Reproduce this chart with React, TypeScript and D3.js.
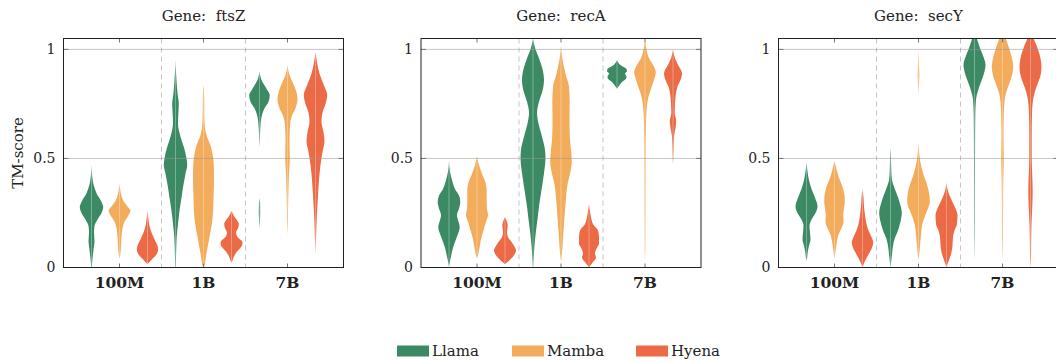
import React from 'react';
import * as d3 from 'd3';

// categories
const genes = ['ftsZ', 'recA', 'secY'];
const sizes = ['100M', '1B', '7B'];
const models = ['Llama', 'Mamba', 'Hyena'];
const modelColors = ['#3B8A64', '#F2AC5B', '#EC6A45'];
const yTicks = [0, 0.5, 1];

type Profile = [number, number][]; // [TM-score, density]

// violin profiles, [size][model]
const ftsZProfiles: Profile[][] = [
  [
    [[0.47, 0], [0.42, 0.7], [0.38, 2], [0.34, 5], [0.3, 10], [0.277, 11.7], [0.25, 10], [0.22, 6], [0.19, 3], [0.16, 2.5], [0.12, 3], [0.08, 2], [0.04, 1], [0, 0.3]],
    [[0.39, 0], [0.35, 1], [0.31, 3.5], [0.28, 8], [0.26, 11], [0.24, 9], [0.21, 5], [0.18, 3], [0.14, 2], [0.1, 1.5], [0.06, 0.8], [0.04, 0]],
    [[0.26, 0], [0.22, 1], [0.19, 2], [0.16, 4], [0.13, 7], [0.1, 10], [0.085, 10.7], [0.06, 9], [0.04, 5], [0.025, 2], [0.015, 0]],
  ],
  [
    [[0.95, 0], [0.88, 0.7], [0.8, 2], [0.75, 3.3], [0.7, 2.8], [0.66, 2.5], [0.6, 5], [0.55, 8.5], [0.5, 11], [0.47, 11.7], [0.43, 10], [0.38, 8], [0.32, 6], [0.26, 4], [0.2, 2.5], [0.14, 1.2], [0.08, 0.7], [0, 0.3]],
    [[0.84, 0], [0.78, 0.7], [0.7, 0.8], [0.64, 1.5], [0.6, 3.5], [0.56, 7], [0.52, 9], [0.47, 10.3], [0.4, 10.5], [0.32, 10], [0.25, 9.5], [0.19, 8], [0.14, 6], [0.09, 4], [0.05, 2.5], [0.02, 1.5], [0, 0.5]],
    [[0.26, 0], [0.24, 2], [0.22, 5], [0.2, 7.3], [0.18, 6.5], [0.16, 4.5], [0.14, 6], [0.12, 10.5], [0.11, 11], [0.09, 9], [0.07, 5], [0.05, 2.5], [0.03, 0.8], [0.02, 0]],
  ],
  [
    [[0.9, 0], [0.86, 2], [0.82, 7], [0.79, 10.3], [0.76, 9], [0.73, 5], [0.69, 2], [0.64, 0.8], [0.58, 0.3], [0.55, 0], [0.32, 0], [0.3, 0.5], [0.25, 0.7], [0.18, 0]],
    [[0.93, 0], [0.89, 1.5], [0.85, 5], [0.81, 8.5], [0.77, 10], [0.73, 8], [0.69, 4], [0.65, 2.5], [0.58, 2], [0.5, 2.3], [0.43, 1.5], [0.36, 1], [0.28, 0.6], [0.2, 0.4], [0.15, 0]],
    [[0.99, 0], [0.94, 1.5], [0.89, 4], [0.84, 8], [0.79, 11.7], [0.75, 10], [0.71, 7], [0.67, 6], [0.62, 8], [0.58, 9], [0.53, 7], [0.47, 5], [0.4, 3.5], [0.33, 2.5], [0.25, 1.5], [0.17, 0.8], [0.1, 0.3], [0.06, 0]],
  ],
];

const recAProfiles: Profile[][] = [
  [
    [[0.49, 0], [0.44, 1], [0.4, 3], [0.36, 6], [0.33, 10], [0.3, 11.3], [0.27, 10], [0.24, 8], [0.21, 9.5], [0.185, 10.7], [0.16, 9.5], [0.13, 7], [0.09, 4], [0.05, 2], [0.01, 0.3], [0, 0]],
    [[0.51, 0], [0.47, 2], [0.43, 5], [0.39, 8.5], [0.35, 9.7], [0.3, 9.7], [0.27, 10], [0.24, 11], [0.21, 9], [0.17, 6.5], [0.13, 4], [0.09, 2.5], [0.06, 1.2], [0.04, 0]],
    [[0.23, 0], [0.21, 2], [0.19, 2.7], [0.16, 2], [0.14, 3], [0.12, 6], [0.1, 9], [0.078, 11], [0.06, 9.5], [0.04, 6], [0.025, 2.5], [0.015, 0]],
  ],
  [
    [[1.05, 0], [1, 2.5], [0.96, 6], [0.91, 9.5], [0.86, 11], [0.81, 9.5], [0.76, 6], [0.71, 4], [0.66, 5.5], [0.6, 9], [0.54, 12], [0.5, 12.5], [0.45, 11.5], [0.4, 10], [0.34, 8], [0.28, 6], [0.22, 4.5], [0.16, 2.8], [0.1, 1.5], [0.04, 0.6], [0, 0.2]],
    [[1.02, 0], [0.97, 1], [0.93, 2.5], [0.88, 5], [0.83, 8], [0.76, 8.7], [0.68, 8.5], [0.6, 8.8], [0.54, 10], [0.49, 10.8], [0.44, 9.5], [0.38, 6.5], [0.32, 5], [0.25, 3.8], [0.18, 2.7], [0.12, 1.8], [0.06, 0.9], [0.03, 0]],
    [[0.29, 0], [0.26, 1], [0.23, 2], [0.2, 4], [0.17, 9], [0.14, 10], [0.11, 10], [0.09, 8], [0.065, 6], [0.045, 7], [0.025, 4], [0.01, 1.5], [0, 0]],
  ],
  [
    [[0.95, 0], [0.93, 3], [0.91, 9.5], [0.9, 10], [0.89, 8], [0.88, 9], [0.87, 9.5], [0.85, 5], [0.83, 1.5], [0.82, 0]],
    [[1.05, 0], [1, 1.5], [0.96, 4], [0.93, 8], [0.895, 10.8], [0.86, 9], [0.82, 6], [0.78, 3.3], [0.74, 2], [0.7, 1.3], [0.6, 0.8], [0.5, 0.6], [0.35, 0.5], [0.2, 0.4], [0.08, 0.3], [0.03, 0]],
    [[1, 0], [0.96, 2], [0.93, 5], [0.89, 9], [0.86, 7.5], [0.83, 4.5], [0.8, 3], [0.75, 2], [0.71, 1.7], [0.67, 3.2], [0.64, 2.5], [0.6, 1], [0.55, 0.6], [0.5, 0.3], [0.475, 0]],
  ],
];

const secYProfiles: Profile[][] = [
  [
    [[0.48, 0], [0.44, 1], [0.4, 2.5], [0.36, 5], [0.32, 8.5], [0.28, 11], [0.25, 9], [0.22, 5], [0.19, 3], [0.16, 3.5], [0.13, 4], [0.1, 2.5], [0.07, 1.2], [0.04, 0.5], [0.03, 0]],
    [[0.49, 0], [0.45, 2], [0.41, 4.5], [0.37, 8], [0.33, 10], [0.3, 10.3], [0.27, 9.5], [0.24, 8.7], [0.21, 9], [0.18, 7], [0.15, 4], [0.12, 2.5], [0.08, 1.2], [0.04, 0]],
    [[0.36, 0], [0.32, 1], [0.28, 1.5], [0.24, 2.5], [0.2, 4], [0.17, 6], [0.14, 9], [0.115, 10.7], [0.09, 9.5], [0.06, 6], [0.03, 2.5], [0, 0]],
  ],
  [
    [[0.55, 0], [0.5, 0.5], [0.44, 0.8], [0.4, 1.5], [0.37, 3.5], [0.34, 6], [0.3, 9], [0.25, 11.3], [0.21, 10], [0.17, 7.5], [0.13, 4], [0.1, 2.5], [0.06, 1.5], [0.02, 0.5], [0, 0]],
    [[1, 0], [0.93, 0.5], [0.88, 0.8], [0.82, 0.3], [0.78, 0], [0.58, 0], [0.54, 0.5], [0.5, 1.3], [0.46, 3], [0.42, 5.5], [0.38, 8.5], [0.33, 11], [0.3, 11.3], [0.27, 9.5], [0.23, 6], [0.19, 3.5], [0.15, 2.5], [0.1, 1.5], [0.06, 0.8], [0.03, 0]],
    [[0.39, 0], [0.35, 1.5], [0.31, 5], [0.27, 9], [0.24, 11], [0.2, 10.5], [0.17, 8], [0.14, 6.5], [0.1, 6], [0.07, 5], [0.04, 3], [0.015, 1], [0, 0]],
  ],
  [
    [[1.08, 0], [1.04, 3], [1, 6], [0.96, 9.5], [0.93, 11], [0.89, 9.5], [0.85, 6.5], [0.81, 3.5], [0.77, 1.5], [0.7, 0.8], [0.6, 0.6], [0.45, 0.5], [0.3, 0.4], [0.15, 0.3], [0.03, 0]],
    [[1.08, 0], [1.04, 4], [1, 7], [0.96, 9.5], [0.92, 10.7], [0.88, 9.5], [0.84, 6.5], [0.8, 3.5], [0.76, 2], [0.7, 1.3], [0.6, 1], [0.5, 1.3], [0.4, 0.8], [0.3, 0.6], [0.15, 0.5], [0.03, 0]],
    [[1.08, 0], [1.04, 4], [1, 7.5], [0.96, 10], [0.92, 11], [0.88, 10], [0.84, 7], [0.8, 4], [0.76, 2.3], [0.7, 1.5], [0.6, 1.2], [0.5, 1.2], [0.42, 1.8], [0.35, 2.2], [0.28, 1.8], [0.2, 1], [0.1, 0.6], [0.03, 0.4], [0, 0]],
  ],
];

const geneProfiles = [ftsZProfiles, recAProfiles, secYProfiles];

// layout
const panelLefts = [63, 420.5, 778];
const panelTop = 38;
const panelW = 280;
const panelH = 229;
const legendX = [397, 512, 636];
const font = '"DejaVu Serif", serif';

const Panel = ({ index }: { index: number }) => {
  const profiles = geneProfiles[index];
  const x = d3.scaleLinear().domain([-2 / 3, 2 + 2 / 3]).range([0, panelW]);
  const y = d3.scaleLinear().domain([0, 1.05]).range([panelH, 0]);
  const w = d3.scaleLinear().domain([0, 12]).range([0, 12]);
  const offsets = [-1 / 3, 0, 1 / 3];
  const clipId = `clip-${index}`;

  return (
    <g transform={`translate(${panelLefts[index] + 0.5},${panelTop + 0.5})`}>
      <text x={panelW / 2} y={-18} textAnchor="middle" fontFamily={font} fontSize={15} fill="#222">
        {`Gene:\u00A0 ${genes[index]}`}
      </text>
      <defs>
        <clipPath id={clipId}>
          <rect x={0} y={0} width={panelW} height={panelH} />
        </clipPath>
      </defs>

      {/* separators between sizes */}
      {[0.5, 1.5].map((s) => (
        <line key={s} x1={x(s)} x2={x(s)} y1={0} y2={panelH} stroke="#c4c4c4" strokeDasharray="5,4" />
      ))}

      <g clipPath={`url(#${clipId})`}>
        {profiles.map((group, si) =>
          group.map((prof, mi) => {
            const cx = x(si + offsets[mi]);
            const area = d3
              .area<[number, number]>()
              .y((d) => y(d[0]))
              .x0((d) => cx - w(d[1]))
              .x1((d) => cx + w(d[1]))
              .curve(d3.curveMonotoneY);
            const top = prof[0][0];
            const bottom = prof[prof.length - 1][0];
            return (
              <g key={`${si}-${mi}`}>
                <path d={area(prof) || ''} fill={modelColors[mi]} />
                <line x1={cx} x2={cx} y1={y(top)} y2={y(bottom)} stroke="#fff" strokeWidth={0.8} opacity={0.4} />
              </g>
            );
          })
        )}
      </g>

      {/* horizontal grid */}
      {yTicks.filter((t) => t > 0).map((t) => (
        <line key={t} x1={0} x2={panelW} y1={y(t)} y2={y(t)} stroke="#999" strokeWidth={1} opacity={0.55} />
      ))}

      {/* ticks */}
      {yTicks.map((t) => (
        <g key={`yt${t}`}>
          <line x1={0} x2={5} y1={y(t)} y2={y(t)} stroke="#777" />
          <line x1={panelW - 5} x2={panelW} y1={y(t)} y2={y(t)} stroke="#777" />
          <text x={-8} y={y(t)} dy="0.35em" textAnchor="end" fontFamily={font} fontSize={14} fill="#222">
            {t}
          </text>
        </g>
      ))}
      {sizes.map((s, i) => (
        <g key={s}>
          <line x1={x(i)} x2={x(i)} y1={panelH} y2={panelH - 4} stroke="#777" />
          <line x1={x(i)} x2={x(i)} y1={0} y2={4} stroke="#777" />
          <text x={x(i)} y={panelH + 20} textAnchor="middle" fontFamily={font} fontWeight="bold" fontSize={15.5} fill="#222">
            {s}
          </text>
        </g>
      ))}

      <rect x={0} y={0} width={panelW} height={panelH} fill="none" stroke="#222" strokeWidth={1} />

      {index === 0 && (
        <text
          transform={`translate(${-46},${panelH / 2}) rotate(-90)`}
          textAnchor="middle"
          dy="0.35em"
          fontFamily={font}
          fontSize={15}
          fill="#222"
        >
          TM-score
        </text>
      )}
    </g>
  );
};

export default function App() {
  return (
    <svg width={1056} height={362} style={{ position: 'absolute', left: 0, top: 0, background: '#fff' }}>
      {genes.map((g, i) => (
        <Panel key={g} index={i} />
      ))}
      {models.map((m, i) => (
        <g key={m}>
          <rect x={legendX[i]} y={345.5} width={32} height={11} fill={modelColors[i]} />
          <text x={legendX[i] + 35} y={356} fontFamily={font} fontSize={15} fill="#222">
            {m}
          </text>
        </g>
      ))}
    </svg>
  );
}
